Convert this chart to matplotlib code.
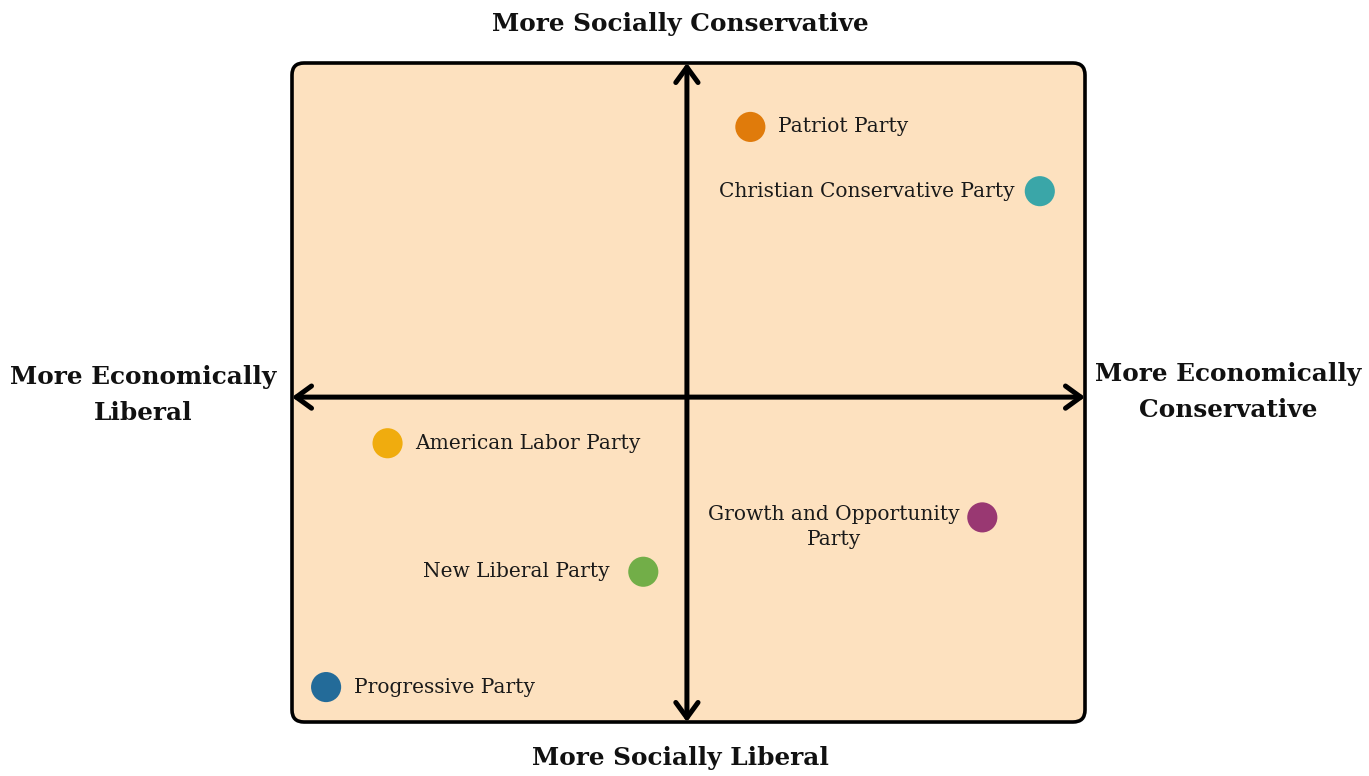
import matplotlib
matplotlib.use('Agg')
import matplotlib.pyplot as plt
from matplotlib.patches import FancyBboxPatch

plt.rcParams['font.family'] = ['DejaVu Serif']

# party positions: x = economic (left liberal, right conservative), y = social
parties = ['Patriot Party', 'Christian Conservative Party', 'American Labor Party',
           'Growth and Opportunity\nParty', 'New Liberal Party', 'Progressive Party']
econ = [1.6, 8.9, -7.55, 7.45, -1.1, -9.1]
social = [8.2, 6.25, -1.4, -3.65, -5.3, -8.8]
colors = ['#E07B0B', '#3AA6A8', '#F0AC0E', '#993872', '#72AE48', '#236B99']
label_side = ['right', 'left', 'right', 'left', 'left', 'right']

W, H = 1369, 776
fig = plt.figure(figsize=(W / 100, H / 100), dpi=100)
# plot box in pixels: x 292..1085, y 63..722
ax = fig.add_axes([292 / W, 1 - 722 / H, (1085 - 292) / W, (722 - 63) / H])
ax.set_xlim(-9.96, 10.04)
ax.set_ylim(-9.86, 10.14)
ax.axis('off')

bw, bh = 1085 - 292, 722 - 63
box = FancyBboxPatch((0, 0), 1, 1, transform=ax.transAxes,
                     boxstyle='round,pad=0,rounding_size=%f' % (12 / bw),
                     mutation_aspect=bw / bh,
                     facecolor='#FDE1BF', edgecolor='black', lw=2.6,
                     clip_on=False, zorder=0)
ax.add_patch(box)

arrow = dict(arrowstyle='<->,head_length=0.55,head_width=0.4', lw=3.6,
             color='black', shrinkA=0, shrinkB=0, mutation_scale=20)
x0, x1 = ax.get_xlim()
y0, y1 = ax.get_ylim()
ax.annotate('', xy=(x1, 0), xytext=(x0, 0), arrowprops=arrow, zorder=2)
ax.annotate('', xy=(0, y1), xytext=(0, y0), arrowprops=arrow, zorder=2)

ax.scatter(econ, social, s=470, c=colors, zorder=3, linewidths=0)

for name, x, y, side in zip(parties, econ, social, label_side):
    dx = 20 if side == 'right' else -18
    dy = 0
    if name.startswith('New'):
        dx = -24
    if '\n' in name:
        dx, dy = -16, -7
    ax.annotate(name, (x, y), xytext=(dx, dy), textcoords='offset points',
                ha='left' if side == 'right' else 'right', multialignment='center',
                va='center', fontsize=14.5, color='#1a1a1a', zorder=4,
                linespacing=1.45)

lab = dict(fontsize=17.8, fontweight='bold', ha='center', va='center',
           linespacing=1.6, color='#111111')
fig.text(680 / W, 1 - 24 / H, 'More Socially Conservative', **lab)
fig.text(680 / W, 1 - 758 / H, 'More Socially Liberal', **lab)
fig.text(143 / W, 1 - 395 / H, 'More Economically\nLiberal', **lab)
fig.text(1228 / W, 1 - 392 / H, 'More Economically\nConservative', **lab)

fig.savefig('out.png', dpi=100)
